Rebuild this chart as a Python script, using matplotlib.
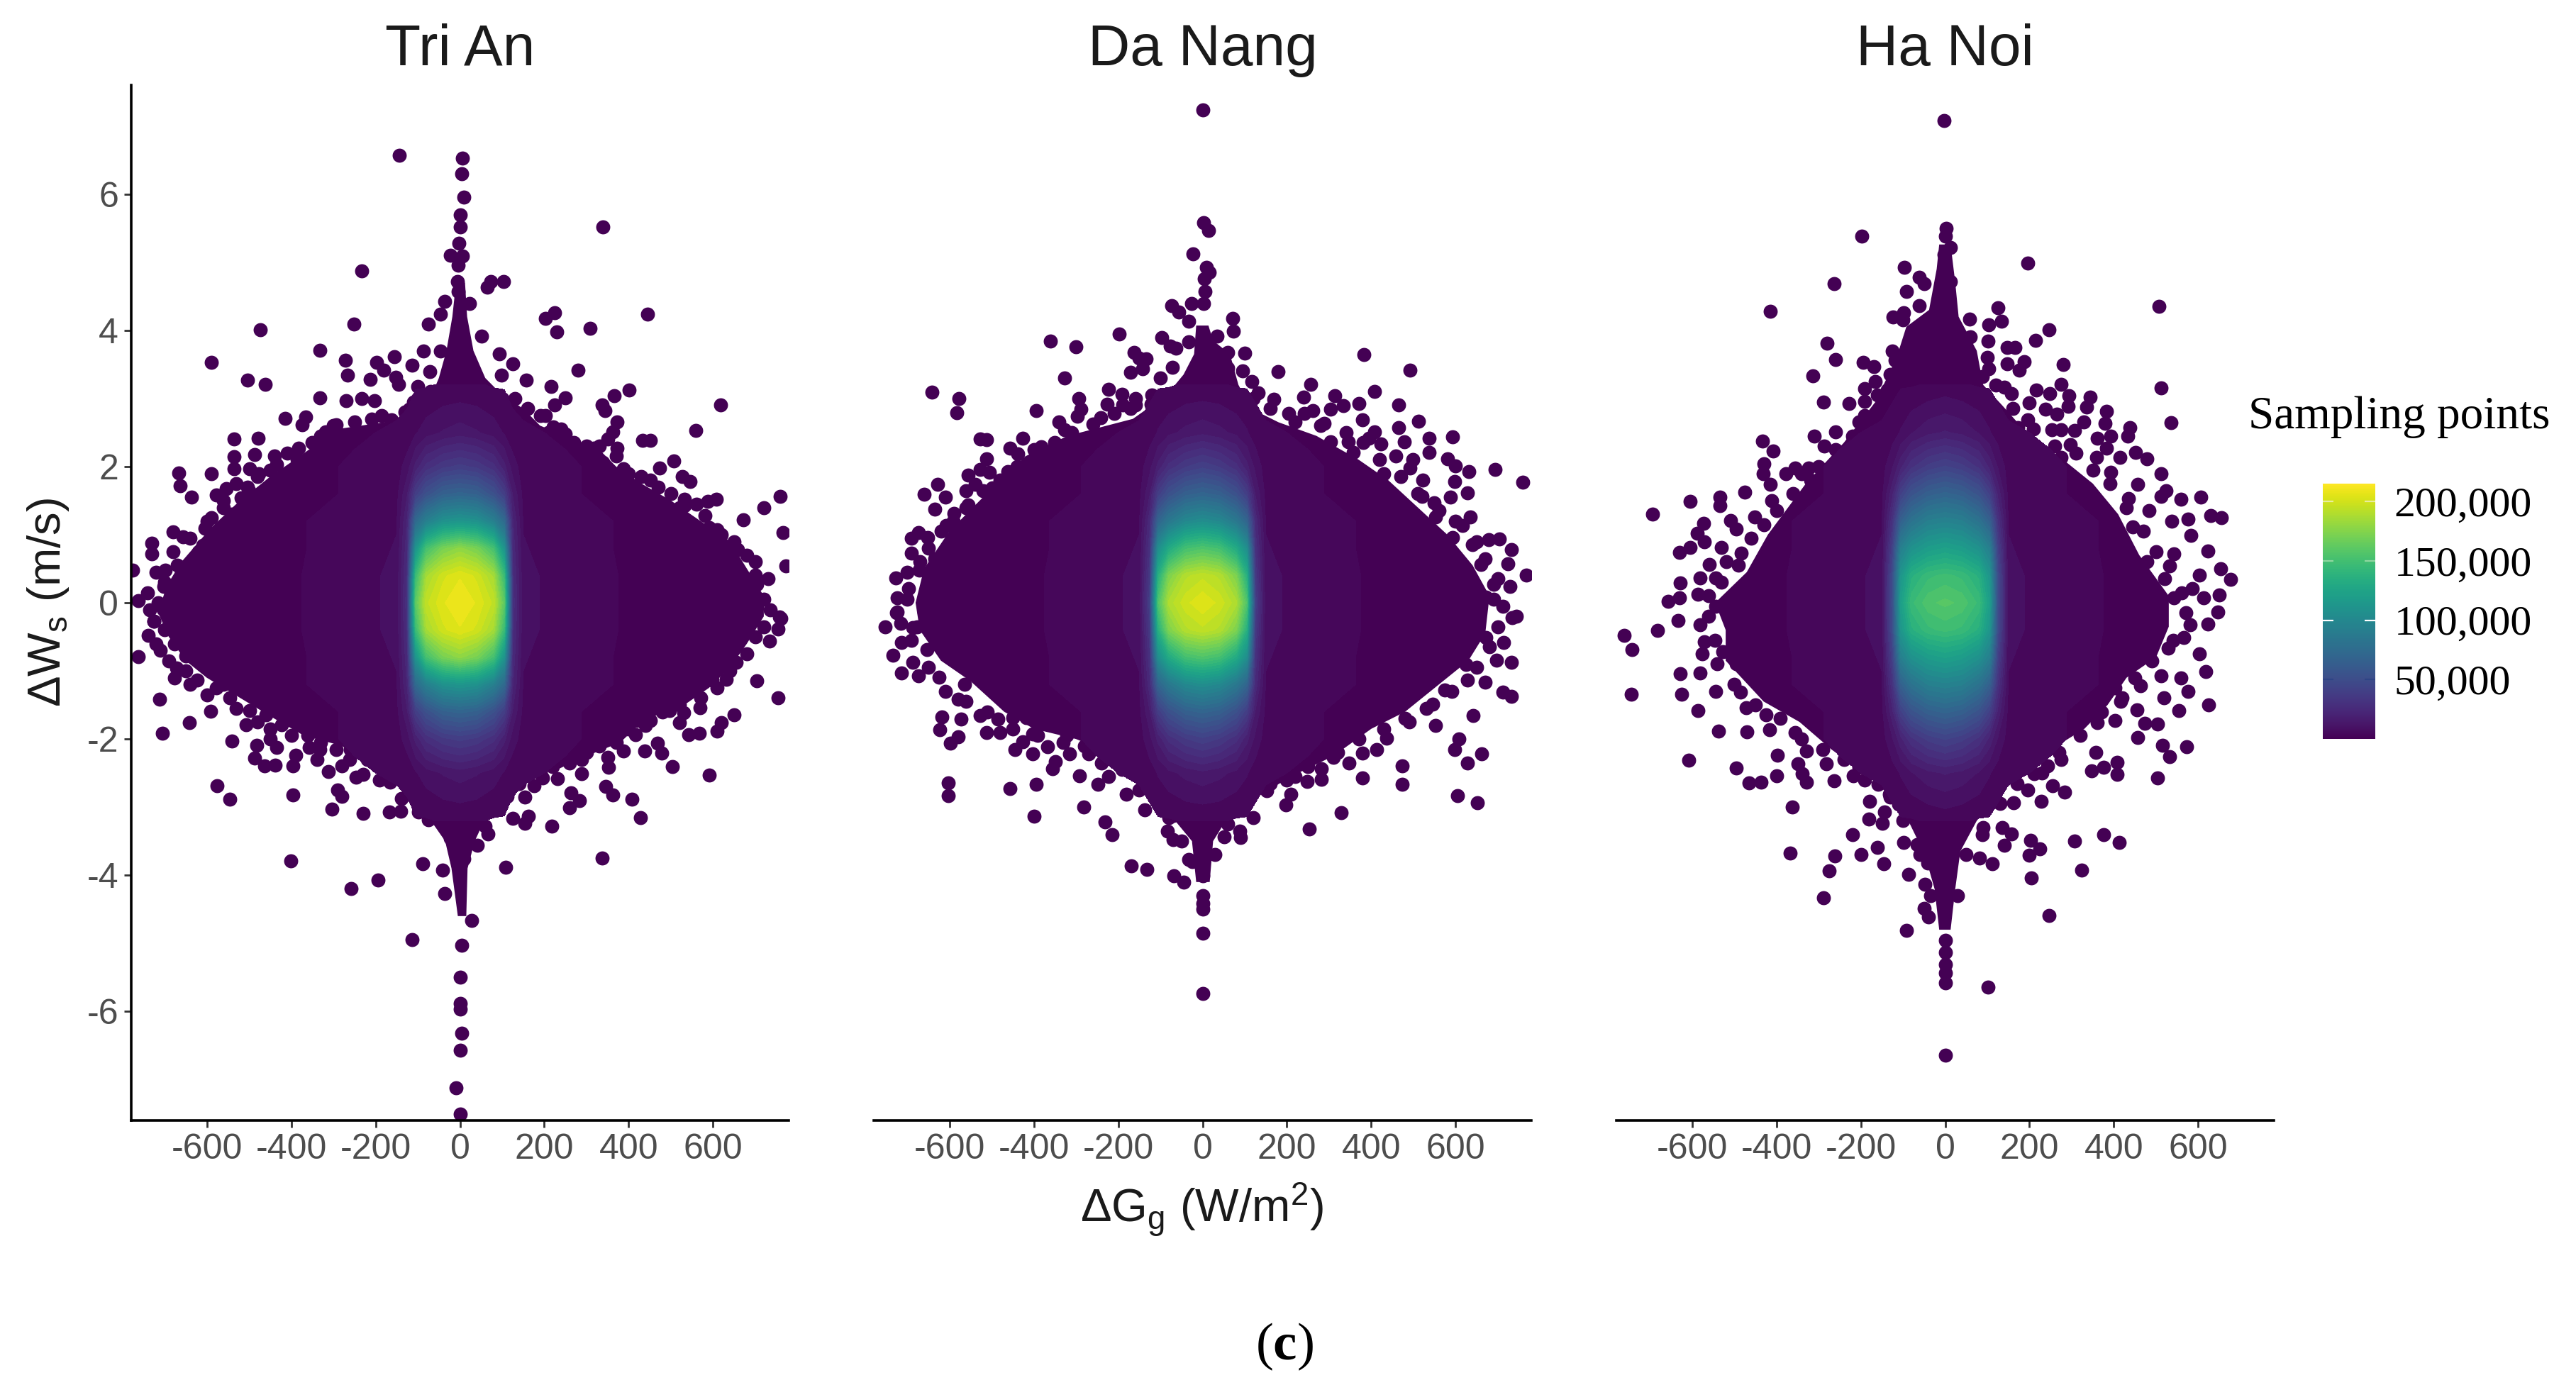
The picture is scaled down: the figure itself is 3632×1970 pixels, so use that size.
import numpy as np
import matplotlib
matplotlib.use("Agg")
import matplotlib.pyplot as plt
from matplotlib.cm import ScalarMappable
from matplotlib.colors import Normalize

plt.rcParams['font.family'] = ['Liberation Sans', 'DejaVu Sans']
plt.rcParams['axes.unicode_minus'] = False
plt.rcParams['mathtext.fontset'] = 'custom'
plt.rcParams['mathtext.rm'] = 'Liberation Sans'
plt.rcParams['mathtext.it'] = 'Liberation Sans:italic'
plt.rcParams['mathtext.bf'] = 'Liberation Serif:bold'

#tick labels
panel_names = ["Tri An", "Da Nang", "Ha Noi"]
x_ticks = [-600, -400, -200, 0, 200, 400, 600]
y_ticks = [-6, -4, -2, 0, 2, 4, 6]
cbar_ticks = [50000, 100000, 150000, 200000]
cbar_labels = ["50,000", "100,000", "150,000", "200,000"]
cbar_tick_colors = ["#2f4485", "white", "#8fd6a0", "#e8eda0"]
cbar_max = 215000

#density: rows = |dWs|, columns = |dGg|, in thousands
density_y = [0, 0.4, 0.8, 1.2, 1.6, 2.0, 2.5, 3.2]
density_x = [0, 40, 80, 105, 125, 150, 250, 400]
tri_an_density = [
    [210, 206, 195, 160, 30, 8, 4, 1],
    [206, 200, 185, 145, 28, 8, 4, 1],
    [178, 170, 150, 110, 25, 7, 3, 1],
    [112, 108, 92, 72, 22, 6, 3, 1],
    [68, 65, 52, 38, 16, 5, 2, 0],
    [38, 35, 28, 18, 9, 4, 2, 0],
    [14, 12, 9, 6, 3, 2, 1, 0],
    [2, 2, 1, 1, 0, 0, 0, 0],
]
da_nang_density = [
    [206, 200, 188, 155, 40, 8, 4, 1],
    [195, 190, 172, 135, 35, 8, 4, 1],
    [155, 150, 130, 105, 30, 7, 3, 1],
    [105, 100, 85, 68, 25, 6, 3, 1],
    [68, 64, 52, 38, 16, 5, 2, 0],
    [40, 36, 28, 18, 10, 4, 2, 0],
    [15, 13, 10, 7, 4, 2, 1, 0],
    [2, 2, 1, 1, 0, 0, 0, 0],
]
ha_noi_density = [
    [158, 155, 145, 120, 50, 8, 4, 1],
    [148, 145, 135, 112, 48, 8, 4, 1],
    [122, 118, 108, 92, 40, 7, 3, 1],
    [95, 92, 80, 65, 30, 6, 3, 1],
    [68, 64, 54, 40, 20, 5, 2, 0],
    [42, 38, 30, 20, 11, 4, 2, 0],
    [17, 15, 11, 7, 4, 2, 1, 0],
    [3, 2, 1, 1, 0, 0, 0, 0],
]

#outline of the solid part of each cloud
tri_an_body = [(12,4.7),(17,4.2),(32,3.7),(60,3.3),(100,3.05),(150,2.85),(190,2.6),(250,2.45),(330,2.25),(370,2.0),(430,1.75),(500,1.5),(570,1.2),(640,.9),(680,.5),(720,.1),
    (720,-.2),(680,-.6),(640,-.95),(590,-1.25),(520,-1.55),(440,-1.7),(380,-2.05),(300,-2.25),(230,-2.45),(160,-2.55),(110,-2.8),(65,-3.1),(35,-3.5),(18,-3.9),(15,-4.6),
    (-5,-4.6),(-20,-3.9),(-35,-3.5),(-80,-3.1),(-110,-2.75),(-190,-2.5),(-280,-2.1),(-370,-1.95),(-440,-1.7),(-520,-1.4),(-600,-1.1),(-650,-.85),(-690,-.5),(-715,-.15),
    (-695,.25),(-660,.6),(-590,1.1),(-530,1.45),(-450,1.85),(-380,2.15),(-290,2.55),(-180,2.65),(-80,2.85),(-50,3.3),(-32,3.7),(-18,4.2),(-10,4.66)]
da_nang_body = [(14,4.07),(25,3.85),(65,3.65),(85,3.2),(115,2.85),(180,2.65),(270,2.45),(370,2.1),(440,1.8),(510,1.4),(580,1.0),(640,.55),(680,.1),
    (670,-.45),(630,-.85),(560,-1.2),(480,-1.6),(400,-1.85),(310,-2.25),(210,-2.55),(130,-2.85),(60,-3.15),(25,-3.5),(17,-4.1),
    (-15,-4.1),(-25,-3.5),(-85,-3.05),(-150,-2.6),(-220,-2.2),(-300,-2.0),(-400,-1.85),(-470,-1.6),(-550,-1.15),(-620,-.85),(-670,-.4),(-680,0),
    (-660,.5),(-600,1.05),(-520,1.55),(-420,2.15),(-320,2.45),(-165,2.7),(-85,3.05),(-45,3.35),(-20,3.65),(-15,4.07)]
ha_noi_body = [(13,5.26),(24,4.7),(32,4.2),(75,3.7),(90,3.2),(135,2.9),(200,2.45),(280,2.1),(350,1.75),(410,1.3),(460,.7),(530,.1),
    (530,-.35),(500,-.8),(430,-1.1),(385,-1.5),(330,-1.85),(265,-2.1),(195,-2.45),(130,-2.8),(75,-3.2),(36,-3.65),(24,-4.2),(13,-4.8),
    (-14,-4.8),(-25,-4.2),(-48,-3.7),(-95,-3.1),(-160,-2.65),(-270,-2.15),(-345,-1.75),(-430,-1.45),(-520,-.85),(-520,-.4),(-545,0),
    (-470,.45),(-420,1.0),(-330,1.75),(-240,2.35),(-165,2.95),(-115,3.6),(-92,4.05),(-38,4.3),(-20,4.9),(-14,5.26)]

#separate points around the clouds (dGg, dWs)
tri_an_points = [(-143,6.57),(6,6.53),(4,6.3),(9,5.95),(1,5.7),(0,5.52),(-3,5.28),(-23,5.1),(6,5.09),(-4,4.96),(339,5.52),(-233,4.87),(-6,4.72),(-4,4.57),
    (64,4.63),(73,4.72),(104,4.72),(-36,4.42),(22,4.39),(-46,4.24),(-75,4.09),(-251,4.09),(-473,4.01),(224,4.26),(202,4.18),(230,3.98),(308,4.03),(445,4.24),
    (51,3.91),(-332,3.71),(-589,3.53),(-272,3.56),(-156,3.61),(-87,3.7),(-46,3.7),(-197,3.53),(-180,3.41),(-267,3.34),(-113,3.49),(-152,3.31),(-145,3.21),(-212,3.28),
    (-71,3.39),(93,3.65),(125,3.51),(99,3.34),(157,3.27),(280,3.41),(216,3.18),(-503,3.27),(-461,3.21),(-100,3.18),(401,3.12),(365,3.04),(249,3.01),(224,2.9),(617,2.9),
    (337,2.9),(344,2.82),(-332,3.01),(-270,2.97),(-233,3.0),(-202,2.97),(-120,2.84),(202,2.75),(-414,2.71),(-366,2.73),(-374,2.61),(-293,2.61),(-319,2.51),(-162,2.69),
    (373,2.66),(362,2.51),(221,2.58),(558,2.53),(-535,2.4),(-478,2.42),(432,2.38),(452,2.38),(249,2.48),(317,2.27),(373,2.27),(-383,2.27),(-261,2.24),(-535,2.14),(-486,2.18),
    (-434,2.03),(-535,1.97),(-499,1.97),(-476,1.9),(-667,1.91),(-589,1.9),(506,2.08),(473,1.98),(339,2.06),(388,1.97),(527,1.85),(545,1.78),(452,1.8),(-663,1.72),(-553,1.68),
    (-504,1.7),(-636,1.55),(-578,1.58),(-518,1.54),(-479,1.55),(758,1.56),(532,1.52),(532,1.43),(607,1.52),(587,1.49),(721,1.39),(-560,1.4),(581,1.28),(671,1.22),(-589,1.25),
    (-511,1.22),(-604,1.09),(-679,1.04),(-656,.97),(609,1.07),(766,1.03),(-730,.87),(-731,.72),(-609,.84),(632,.81),(658,.78),(700,.41),(650,.57),(772,.54),(-775,.48),(-698,.48),
    (-660,.45),(-702,.24),(-762,.03),(703,.27),(677,.21),(-704,-.09),(703,-.06),(760,-.23),(-726,-.27),(-685,-.24),
    (757,-.21),(754,-.39),(733,-.56),(700,-.06),(-725,-.27),(-738,-.48),(-720,-.6),(-762,-.79),(-676,-.36),(-676,-.6),(-650,-.78),(-671,-.96),(-676,-1.1),(-622,-1.13),(654,-.87),
    (631,-1.12),(703,-1.15),(597,-1.13),(753,-1.39),(-712,-1.42),(-578,-1.25),(-546,-1.4),(-591,-1.59),(-641,-1.76),(-705,-1.92),(-499,-1.58),(-460,-1.64),(-506,-1.79),(-422,-1.79),
    (-540,-2.03),(-450,-2.0),(-482,-2.09),(-486,-2.28),(-434,-2.12),(-389,-2.24),(-463,-2.39),(-438,-2.38),(-396,-2.39),(-357,-2.12),(-332,-2.15),(-293,-2.15),(-338,-2.3),(-261,-2.3),
    (-311,-2.48),(-280,-2.39),(-247,-2.56),(-229,-2.52),(-184,-2.36),(-165,-2.63),(-132,-2.63),(-139,-2.87),(-103,-2.75),(-576,-2.69),(-546,-2.88),(-396,-2.82),(-290,-2.75),(-280,-2.84),
    (-303,-3.03),(-229,-3.09),(-167,-3.07),(-141,-3.06),(-98,-3.07),(-75,-3.19),(530,-1.61),(569,-1.54),(650,-1.64),(620,-1.76),(609,-1.88),(497,-1.58),(452,-1.73),(420,-1.73),(520,-1.76),
    (542,-1.94),(568,-1.92),(416,-1.94),(283,-1.88),(468,-2.06),(437,-2.18),(478,-2.21),(504,-2.4),(388,-2.18),(350,-2.27),(352,-2.42),(288,-2.3),(288,-2.51),(231,-2.58),(591,-2.53),
    (195,-2.57),(175,-2.69),(176,-2.33),(346,-2.7),(362,-2.82),(407,-2.88),(263,-2.79),(283,-2.9),(260,-3.01),(427,-3.15),(217,-3.28),(125,-3.16),(163,-3.13),(154,-3.24),(112,-2.84),
    (153,-2.85),(58,-2.99),(60,-3.28),(67,-3.39),(41,-3.56),(-23,-3.46),(9,-3.76),(337,-3.75),(108,-3.88),(-401,-3.79),(-89,-3.83),(-42,-3.93),(-194,-4.07),(-258,-4.2),(-36,-4.27),
    (28,-4.66),(-113,-4.95),(4,-5.03),(0,-5.5),(0,-5.88),(0,-5.97),(5,-6.32),(0,-6.57),(-10,-7.12),(0,-7.51)]
tri_an_edge = [(-440,2.15),(-410,2.2),(-385,2.1),(-350,2.35),(-330,2.45),(-300,2.6),(-250,2.65),(-210,2.7),(-185,2.75),(-130,2.8),(-110,2.95),(-100,3.0),(-70,3.1),(-480,1.85),(-450,1.95),(-530,1.75),
    (-500,1.65),(-560,1.5),(-540,1.3),(-600,1.2),(-570,1.05),(-640,.95),(-620,.75),(-680,.75),(-670,.55),(-720,.45),(-700,.3),(-740,.15),(-715,0),(-735,-.1),(-700,-.4),(-710,-.7),(-690,-.85),(-650,-1.0),
    (-640,-1.2),(-600,-1.35),(-560,-1.2),(-530,-1.55),(-480,-1.75),(-450,-1.85),(-400,-1.95),(-360,-1.95),(-330,-2.05),(-260,-2.15),(-220,-2.3),(-190,-2.6),(-160,-2.35),(-110,-2.5),
    (100,3.0),(130,3.0),(160,2.85),(190,2.75),(210,2.5),(240,2.55),(270,2.35),(300,2.3),(330,2.3),(350,2.4),(370,2.15),(400,1.9),(430,1.85),(470,1.7),(500,1.6),(520,1.4),(560,1.45),(590,1.1),(620,1.0),
    (650,.9),(680,.7),(700,.6),(730,.35),(720,.05),(735,-.1),(720,-.35),(700,-.5),(680,-.75),(640,-1.0),(610,-1.25),(570,-1.4),(520,-1.5),(480,-1.6),(440,-1.8),(400,-1.85),(370,-2.05),(330,-2.1),(300,-2.2),
    (260,-2.35),(220,-2.4),(190,-2.5),(140,-2.65),(100,-2.7),(80,-2.85)]

da_nang_points = [(0,7.24),(2,5.58),(14,5.47),(-23,5.12),(10,4.92),(16,4.85),(5,4.76),(6,4.57),(-73,4.36),(-56,4.27),(-26,4.39),(2,4.39),(-32,4.13),(72,4.17),(73,3.99),(-197,3.95),
    (-361,3.84),(-300,3.76),(-96,3.89),(-77,3.77),(-63,3.74),(-32,3.83),(34,3.91),(-163,3.68),(383,3.64),(100,3.66),(59,3.68),(-133,3.58),(-150,3.59),(-71,3.46),(-142,3.44),(-170,3.38),
    (491,3.42),(179,3.39),(-327,3.3),(117,3.25),(256,3.21),(132,3.08),(-223,3.13),(408,3.1),(-642,3.09),(-578,3.0),(-583,2.79),(-191,3.06),(-158,3.0),(313,3.04),(-294,3.0),(239,3.02),
    (169,2.99),(-226,2.92),(-189,2.9),(-158,2.9),(-122,2.92),(-288,2.84),(464,2.9),(370,2.93),(334,2.89),(303,2.84),(261,2.82),(242,2.78),(205,2.78),(-394,2.82),(-296,2.74),(379,2.69),
    (511,2.67),(-242,2.72),(-341,2.65),(289,2.63),(-327,2.54),(464,2.57),(593,2.44),(537,2.42),(408,2.51),(394,2.42),(478,2.36),(303,2.36),(346,2.36),(-527,2.41),(-512,2.39),(-426,2.42),
    (-457,2.27),(-383,2.29),(422,2.33),(537,2.21),(357,2.21),(581,2.11),(498,2.1),(458,2.16),(-512,2.11),(-437,2.19),(599,2.01),(631,1.93),(693,1.96),(492,1.98),(430,1.89),(-527,1.96),
    (-505,1.92),(-462,1.93),(-555,1.87),(758,1.77),(522,1.8),(597,1.78),(-538,1.74),(-627,1.74),(-660,1.59),(-610,1.55),(-561,1.65),(-499,1.69),(627,1.61),(588,1.55),(548,1.47),(520,1.56),
    (-634,1.37),(-589,1.31),(-555,1.44),(635,1.26),(552,1.26),(616,1.14),(-608,1.14),(-555,1.17),(593,.96),(-673,1.03),(-690,.95),(-651,.96),(-563,.99),(650,.9),(678,.93),(703,.94),(732,.78),
    (-690,.73),(-634,.65),(723,.57),(660,.56),(613,.57),(768,.41),(-671,.48),(-727,.36),(690,.27),(729,.24),(-696,.21),(-724,.07),(672,.08),(712,-.05),(-724,-.14),(655,-.2),(734,-.22),
    (-752,-.35),(-677,-.35),(-660,-.14),
    (743,-.2),(714,-.58),(696,-.84),(732,-.87),(671,-.51),(625,-.91),(628,-1.13),(670,-1.17),(712,-1.31),(732,-1.37),(574,-1.28),(-726,-.15),(-687,-.36),(-714,-.58),(-734,-.77),(-653,-.69),
    (-687,-.87),(-713,-1.03),(-673,-1.07),(-624,-1.09),(-579,-1.42),(-564,-1.2),(-617,-1.68),(-572,-1.71),(-527,-1.66),(-485,-1.71),(-449,-1.69),(-417,-1.69),(-622,-1.86),(-579,-1.97),(-597,-2.06),
    (-512,-1.91),(-479,-1.91),(-426,-2.04),(-403,-1.93),(-403,-2.22),(-445,-2.16),(-367,-2.11),(-322,-1.95),(-349,-2.33),(-315,-2.22),(-355,-2.44),(-270,-2.22),(-253,-2.11),(552,-1.8),(642,-1.66),
    (490,-1.75),(436,-1.99),(546,-1.49),(608,-2.0),(597,-2.15),(661,-2.22),(628,-2.35),(413,-2.16),(379,-2.21),(473,-2.39),(473,-2.66),(379,-2.57),(347,-2.35),(310,-2.27),(282,-2.44),(355,-1.86),
    (321,-2.0),(282,-2.59),(248,-2.62),(220,-2.55),(209,-2.81),(152,-2.76),(605,-2.83),(651,-2.94),(197,-2.97),(329,-3.08),(253,-3.32),(120,-3.15),(88,-3.35),(90,-3.45),(51,-3.44),(-602,-2.64),
    (-602,-2.83),(-456,-2.73),(-394,-2.67),(-400,-3.13),(-291,-2.54),(-248,-2.67),(-222,-2.55),(-282,-3.0),(-180,-2.81),(-135,-2.62),(-137,-3.04),(-231,-3.22),(-214,-3.4),(-70,-3.12),(-84,-3.35),
    (-70,-3.48),(-169,-3.86),(-132,-3.91),(-68,-4.01),(-45,-4.1),(-32,-3.77),(0,-4.01),(1,-4.3),(1,-4.41),(1,-4.5),(0,-4.85),(1,-5.74)]
da_nang_edge = [(-100,3.3),(-120,3.05),(-170,2.85),(-210,2.78),(-260,2.62),(-310,2.5),(-350,2.35),(-400,2.25),(-440,2.0),(-480,1.8),(-520,1.65),(-560,1.4),(-590,1.2),(-620,1.05),(-650,.8),(-670,.6),(-700,.45),
    (-700,.05),(-715,-.3),(-690,-.55),(-650,-.95),(-610,-1.3),(-560,-1.45),(-510,-1.6),(-450,-1.85),(-390,-1.95),(-330,-2.05),(-280,-2.1),(-240,-2.35),(-190,-2.45),(-150,-2.75),(-110,-2.85),(-80,-3.15),(-50,-3.5),(-25,-3.8),
    (60,3.45),(95,3.4),(120,3.0),(160,2.85),(220,2.65),(280,2.6),(340,2.5),(380,2.35),(420,2.1),(470,1.85),(510,1.6),(560,1.35),(600,1.2),(640,.85),(670,.65),(700,.35),(690,.05),(700,-.35),(680,-.65),(650,-.95),
    (590,-1.3),(530,-1.55),(480,-1.7),(430,-1.85),(370,-2.0),(320,-2.2),(250,-2.4),(200,-2.6),(160,-2.65),(100,-2.95),(60,-3.25),(30,-3.7)]

ha_noi_points = [(-3,7.08),(2,5.5),(0,5.38),(-197,5.38),(13,5.22),(-3,5.11),(196,4.99),(-96,4.92),(-62,4.78),(-49,4.68),(-263,4.68),(-3,4.84),(-91,4.57),(13,4.72),(-62,4.36),(507,4.35),(-415,4.28),
    (-99,4.26),(-123,4.2),(125,4.33),(58,4.16),(104,4.08),(133,4.13),(246,4.01),(215,3.85),(101,3.84),(-279,3.81),(147,3.75),(166,3.75),(-260,3.57),(-194,3.53),(-169,3.47),(-119,3.56),(279,3.5),
    (187,3.54),(147,3.51),(175,3.42),(104,3.44),(88,3.32),(-314,3.33),(-166,3.25),(275,3.21),(512,3.15),(-191,3.14),(-137,3.12),(141,3.17),(157,3.07),(216,3.12),(248,3.07),(294,3.04),(343,3.02),
    (-288,2.95),(-228,2.93),(-191,2.96),(200,2.94),(291,2.88),(336,2.87),(382,2.81),(237,2.84),(264,2.77),(535,2.64),(-204,2.66),(-155,2.72),(379,2.63),(328,2.66),(195,2.69),(141,2.66),(437,2.57),
    (253,2.54),(275,2.54),(173,2.57),(-260,2.51),(-310,2.45),(433,2.45),(360,2.42),(393,2.45),(307,2.53),(-433,2.37),(382,2.27),(-407,2.23),(296,2.32),(-287,2.3),(451,2.21),(478,2.11),(414,2.13),
    (358,2.13),(275,2.13),(-429,2.04),(-356,1.98),(-324,1.98),(-378,1.89),(-431,1.89),(512,1.89),(393,1.92),(457,1.74),(512,1.56),(523,1.65),(-415,1.74),(-319,1.8),(-474,1.62),(-533,1.55),(-533,1.43),
    (-605,1.49),(-693,1.3),(559,1.52),(606,1.55),(435,1.53),(-411,1.5),(-452,1.26),(-509,1.21),(-573,1.17),(576,1.23),(630,1.28),(655,1.25),(483,1.35),(537,1.2),(-495,1.08),(-588,1.02),(-570,.9),(444,1.11),
    (583,.99),(-530,.81),(-605,.81),(-629,.74),(542,.72),(622,.76),(-484,.73),(-519,.6),(-559,.56),(478,.6),(532,.54),(653,.5),(676,.34),(603,.41),(-627,.29),(-581,.36),(-543,.36),(467,.3),(585,.21),(649,.11),
    (612,.07),(-656,.02),(-629,.07),(-586,.13),(542,.07),(-543,-.05),(-760,-.48),(-681,-.41),(-632,-.26),(-581,-.32),(647,-.14),(580,-.32),(622,-.31),
    (-742,-.69),(-570,-.57),(-575,-.75),(-527,-.72),(-628,-1.04),(-581,-1.03),(-743,-1.34),(-624,-1.34),(-543,-1.3),(-495,-.9),(-458,-1.1),(-485,-1.31),(-586,-1.58),(-472,-1.54),(-410,-1.37),(-425,-1.64),
    (-537,-1.88),(-469,-1.89),(-416,-1.86),(-356,-1.91),(-607,-2.31),(-397,-2.24),(-495,-2.43),(-465,-2.64),(-436,-2.63),(-400,-2.54),(-348,-2.36),(-338,-2.51),(-329,-2.63),(-329,-2.18),(-282,-2.36),(-263,-2.61),
    (-217,-2.54),(-204,-2.42),(-158,-2.66),(-363,-3.0),(-179,-2.91),(-132,-2.81),(-110,-2.96),(-144,-3.07),(-180,-3.18),(-148,-3.24),(-220,-3.4),(-367,-3.67),(-160,-3.59),(-98,-3.52),(-67,-3.55),(-261,-3.72),
    (-199,-3.7),(-145,-3.83),(-41,-3.82),(-275,-3.94),(-86,-3.99),(-48,-4.13),(-289,-4.33),(-49,-4.49),(-39,-4.61),(-92,-4.81),(0,-4.96),(0,-5.13),(0,-5.31),(0,-5.43),(0,-5.58),(101,-5.64),(0,-6.64),(246,-4.59),
    (204,-4.04),(323,-3.92),(111,-3.83),(82,-3.75),(200,-3.71),(224,-3.61),(203,-3.49),(140,-3.56),(157,-3.39),(136,-3.3),(88,-3.4),(307,-3.5),(376,-3.4),(412,-3.52),(162,-2.94),(228,-2.91),(284,-2.78),(254,-2.69),
    (195,-2.75),(109,-2.94),(504,-2.57),(407,-2.52),(376,-2.42),(347,-2.47),(408,-2.34),(532,-2.26),(515,-2.09),(572,-2.11),(357,-2.2),(457,-1.98),(503,-1.78),(473,-1.77),(403,-1.73),(360,-1.76),(455,-1.57),
    (553,-1.58),(625,-1.5),(416,-1.45),(519,-1.4),(576,-1.3),(463,-1.22),(403,-1.25),(558,-1.1),(618,-1.01),(512,-1.07),(603,-.75),(529,-.67),(566,-.51),(275,-2.3),(243,-2.39),(211,-2.51)]
ha_noi_edge = [(-100,4.15),(-125,3.7),(-130,3.35),(-160,3.05),(-190,2.75),(-220,2.45),(-260,2.25),(-300,2.0),(-340,1.9),(-360,1.6),(-400,1.35),(-430,1.15),(-460,.95),(-490,.55),(-530,.3),(-560,.1),(-560,-.2),(-545,-.55),(-540,-.9),
    (-500,-1.2),(-450,-1.5),(-390,-1.7),(-340,-2.0),(-290,-2.15),(-240,-2.3),(-190,-2.6),(-130,-2.85),(-100,-3.2),(-60,-3.7),(-35,-4.3),
    (60,3.9),(100,3.6),(120,3.2),(160,2.85),(210,2.55),(260,2.3),(310,2.2),(350,1.95),(390,1.75),(430,1.4),(470,1.05),(500,.75),(520,.35),(560,.15),(570,-.15),(540,-.55),(490,-.85),(450,-1.1),(420,-1.4),(370,-1.6),
    (320,-1.95),(270,-2.2),(230,-2.5),(170,-2.65),(130,-2.95),(90,-3.3),(50,-3.7),(30,-4.3)]

if __name__ == "__main__":
    W, H = 3632, 1970
    fig = plt.figure(figsize=(W / 100, H / 100), dpi=100)
    cmap = plt.get_cmap("viridis")
    dark = cmap(0)
    levels = np.arange(1.5, 216, 5)
    norm = Normalize(0, cbar_max / 1000)

    panels = [
        (185, tri_an_body, tri_an_points + tri_an_edge, tri_an_density),
        (1232, da_nang_body, da_nang_points + da_nang_edge, da_nang_density),
        (2279, ha_noi_body, ha_noi_points + ha_noi_edge, ha_noi_density),
    ]

    for i, (left, body, points, density) in enumerate(panels):
        ax = fig.add_axes([left / W, 1 - 1580 / H, 927 / W, 1460 / H])
        ax.set_xlim(-779, 779)
        ax.set_ylim(-7.6, 7.6)

        body = np.array(body)
        points = np.array(points)
        ax.fill(body[:, 0], body[:, 1], color=dark, lw=0, zorder=1)
        ax.scatter(points[:, 0], points[:, 1], s=205, color=dark, lw=0, zorder=2)

        #mirror the quarter grid to all four sides
        d = np.array(density, dtype=float)
        gx = np.array(density_x, dtype=float)
        gy = np.array(density_y, dtype=float)
        full = np.vstack([d[:0:-1], d])
        full = np.hstack([full[:, :0:-1], full])
        xx = np.concatenate([-gx[:0:-1], gx])
        yy = np.concatenate([-gy[:0:-1], gy])
        ax.contourf(xx, yy, full, levels=levels, cmap=cmap, norm=norm, zorder=3)

        for s in ["top", "right"]:
            ax.spines[s].set_visible(False)
        ax.spines["bottom"].set_linewidth(2.6)
        ax.spines["bottom"].set_color("black")
        ax.spines["left"].set_linewidth(2.6)
        ax.spines["left"].set_color("black")
        ax.set_xticks(x_ticks)
        ax.set_xticklabels([str(t) for t in x_ticks])
        ax.tick_params(axis="x", length=7, width=2, color="#333333", labelcolor="#4D4D4D", labelsize=36, pad=6)
        if i == 0:
            ax.set_yticks(y_ticks)
            ax.set_yticklabels([str(t) for t in y_ticks])
            ax.tick_params(axis="y", length=7, width=2, color="#333333", labelcolor="#4D4D4D", labelsize=36, pad=6)
        else:
            ax.spines["left"].set_visible(False)
            ax.set_yticks([])

        center = left + 463.5
        fig.text(center / W, 1 - 92 / H, panel_names[i], fontsize=59, color="#1A1A1A", ha="center", va="baseline")

    fig.text(68 / W, 1 - 850 / H, "ΔW$_{\\mathrm{s}}$ (m/s)", fontsize=47, rotation=90, ha="center", va="center", color="#1A1A1A")
    fig.text(1695 / W, 1 - 1706 / H, "ΔG$_{\\mathrm{g}}$ (W/m$^{2}$)", fontsize=47, ha="center", va="center", color="#1A1A1A")

    serif = ["Liberation Serif", "DejaVu Serif"]
    fig.text(1811 / W, 1 - 1899 / H, "($\\mathbf{c}$)", fontsize=54, family=serif, ha="center", va="center", color="black")

    #colorbar
    fig.text(3170 / W, 1 - 588 / H, "Sampling points", fontsize=47, family=serif, ha="left", va="center", color="black")
    cax = fig.add_axes([3275 / W, 1 - 1042 / H, 74 / W, 360 / H])
    sm = ScalarMappable(norm=Normalize(0, cbar_max), cmap=cmap)
    cbar = fig.colorbar(sm, cax=cax)
    cbar.outline.set_visible(False)
    cbar.set_ticks(cbar_ticks)
    cbar.set_ticklabels(cbar_labels)
    cax.tick_params(length=0, pad=19, labelsize=43)
    for label in cax.get_yticklabels():
        label.set_family(serif)
    for tick, col in zip(cbar_ticks, cbar_tick_colors):
        cax.hlines(tick, 0, 0.2, color=col, lw=1.6, transform=cax.get_yaxis_transform())
        cax.hlines(tick, 0.8, 1, color=col, lw=1.6, transform=cax.get_yaxis_transform())

    plt.savefig("out.png", dpi=100)
    plt.close()
